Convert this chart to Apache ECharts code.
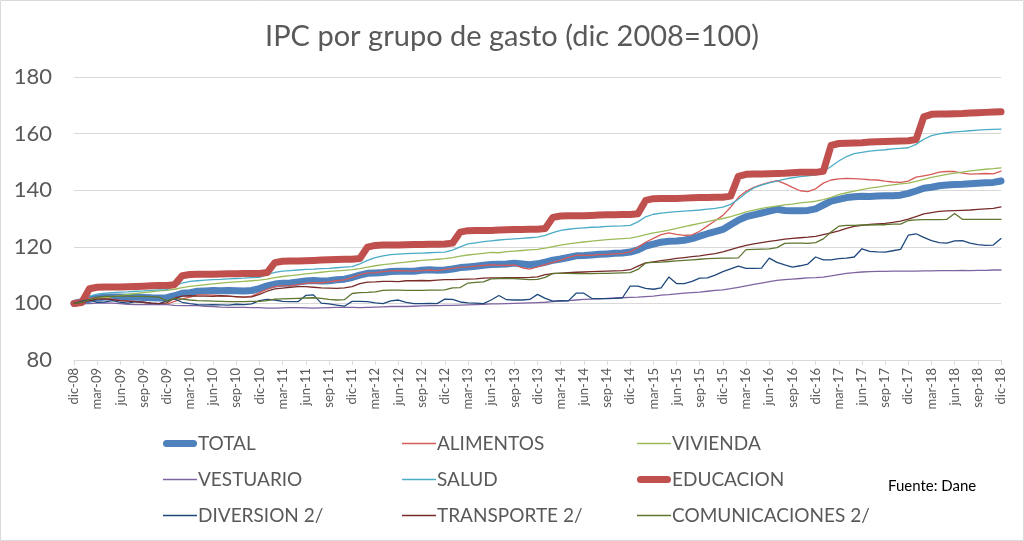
<!DOCTYPE html>
<html>
<head>
<meta charset="utf-8">
<script src="https://cdn.jsdelivr.net/npm/echarts@6/dist/echarts.min.js"></script>
<style>
  html, body { margin: 0; padding: 0; background: #fff; }
  #chart { width: 1024px; height: 541px; }
</style>
</head>
<body>
<div id="chart"></div>
<script>
// categorias mensuales dic-08 ... dic-18
const meses = ['ene', 'feb', 'mar', 'abr', 'may', 'jun', 'jul', 'ago', 'sep', 'oct', 'nov', 'dic']
const categories = ['dic-08']
for (let y = 9; y <= 18; y++) {
  meses.forEach(m => categories.push(m + '-' + String(y).padStart(2, '0')))
}

const yTicks = [80, 100, 120, 140, 160, 180]

const total = [100,
  100.59, 101.43, 101.94, 102.26, 102.28, 102.22, 102.18, 102.23, 102.12, 101.98, 101.92, 102.00,
  102.70, 103.55, 103.81, 104.29, 104.40, 104.52, 104.47, 104.59, 104.45, 104.36, 104.56, 105.24,
  106.19, 106.83, 107.12, 107.25, 107.55, 107.90, 108.05, 107.90, 108.01, 108.35, 108.55, 109.16,
  109.96, 110.63, 110.76, 110.92, 111.25, 111.35, 111.32, 111.37, 111.69, 111.87, 111.72, 111.82,
  112.15, 112.65, 112.88, 113.16, 113.48, 113.75, 113.80, 113.89, 114.23, 113.93, 113.68, 113.98,
  114.54, 115.26, 115.71, 116.24, 116.81, 116.91, 117.09, 117.33, 117.49, 117.68, 117.84, 118.15,
  118.91, 120.28, 120.98, 121.63, 121.95, 122.08, 122.31, 122.90, 123.78, 124.62, 125.37, 126.15,
  127.78, 129.41, 130.63, 131.28, 131.95, 132.58, 133.27, 132.85, 132.78, 132.70, 132.85, 133.40,
  134.77, 136.12, 136.76, 137.40, 137.71, 137.87, 137.80, 137.99, 138.05, 138.07, 138.25, 138.85,
  139.72, 140.71, 141.05, 141.55, 141.80, 142.02, 142.10, 142.25, 142.43, 142.60, 142.76, 143.27]

const alimentos = [100,
  101.0, 101.8, 101.9, 101.8, 101.4, 101.1, 100.8, 100.6, 100.3, 100.0, 99.7, 99.7,
  100.7, 101.6, 102.2, 103.0, 103.0, 102.9, 102.7, 102.6, 102.3, 102.2, 102.6, 103.8,
  105.0, 105.9, 106.2, 106.3, 106.6, 107.1, 107.3, 107.3, 107.6, 108.0, 108.3, 109.2,
  110.2, 110.8, 110.9, 111.2, 111.5, 111.6, 111.5, 111.4, 111.6, 111.8, 111.6, 112.0,
  112.4, 112.8, 112.9, 113.2, 113.4, 113.6, 113.5, 113.4, 113.6, 112.6, 112.1, 112.9,
  113.7, 114.5, 115.3, 116.3, 117.0, 117.0, 117.0, 117.2, 117.3, 117.5, 117.7, 118.2,
  119.8, 121.6, 123.0, 124.3, 124.9, 124.4, 124.0, 124.2, 125.5, 127.4, 129.2, 131.1,
  134.0, 137.5, 139.6, 141.0, 142.0, 142.8, 143.4, 142.3, 141.0, 139.8, 139.5, 140.5,
  142.5, 143.6, 144.0, 144.2, 144.1, 143.9, 143.7, 143.6, 143.2, 142.9, 142.8, 143.2,
  144.6, 145.1, 145.6, 146.4, 146.6, 146.6, 146.0, 145.7, 145.8, 145.9, 145.8, 146.7]

const vivienda = [100,
  100.5, 101.1, 101.6, 102.0, 102.4, 102.8, 103.2, 103.5, 103.8, 104.1, 104.4, 104.6,
  105.0, 105.6, 106.0, 106.3, 106.6, 106.9, 107.2, 107.4, 107.6, 107.8, 108.0, 108.2,
  108.6, 109.1, 109.5, 109.8, 110.1, 110.4, 110.7, 111.0, 111.3, 111.5, 111.7, 111.9,
  112.3, 112.8, 113.3, 113.7, 114.0, 114.3, 114.6, 114.9, 115.2, 115.4, 115.6, 115.8,
  116.2, 116.7, 117.1, 117.4, 117.7, 118.0, 117.9, 118.3, 118.5, 118.7, 118.9, 119.1,
  119.5, 120.1, 120.6, 121.0, 121.4, 121.7, 122.0, 122.3, 122.5, 122.7, 122.9, 123.1,
  123.6, 124.3, 124.9, 125.4, 125.9, 126.5, 127.1, 127.7, 128.3, 128.9, 129.5, 130.0,
  130.7, 131.5, 132.3, 133.0, 133.6, 134.0, 134.4, 134.8, 135.1, 135.5, 135.8, 136.1,
  136.7, 137.5, 138.4, 139.1, 139.7, 140.2, 140.7, 141.1, 141.5, 141.9, 142.2, 142.5,
  143.1, 143.8, 144.5, 145.1, 145.6, 146.0, 146.4, 146.8, 147.1, 147.4, 147.6, 147.9]

const vestuario = [100,
  99.9, 99.9, 100.1, 100.2, 100.1, 99.9, 99.7, 99.6, 99.6, 99.6, 99.6, 99.6,
  99.3, 99.2, 99.2, 99.2, 99.0, 98.9, 98.7, 98.6, 98.6, 98.6, 98.5, 98.5,
  98.3, 98.3, 98.4, 98.5, 98.5, 98.4, 98.3, 98.4, 98.5, 98.6, 98.6, 98.6,
  98.5, 98.6, 98.7, 98.8, 98.9, 98.9, 98.9, 99.0, 99.1, 99.2, 99.2, 99.3,
  99.3, 99.4, 99.5, 99.6, 99.7, 99.8, 99.8, 99.9, 100.0, 100.1, 100.2, 100.3,
  100.4, 100.6, 100.8, 101.0, 101.2, 101.4, 101.5, 101.6, 101.8, 101.9, 102.0, 102.1,
  102.2, 102.4, 102.6, 102.9, 103.1, 103.4, 103.6, 103.8, 104.0, 104.3, 104.6, 104.8,
  105.2, 105.7, 106.2, 106.7, 107.2, 107.7, 108.1, 108.4, 108.6, 108.8, 109.0, 109.1,
  109.3, 109.7, 110.2, 110.6, 110.9, 111.1, 111.2, 111.3, 111.3, 111.4, 111.4, 111.4,
  111.4, 111.5, 111.5, 111.6, 111.6, 111.6, 111.7, 111.6, 111.7, 111.7, 111.8, 111.8]

const salud = [100,
  101.3, 102.6, 103.3, 103.6, 103.8, 104.0, 104.1, 104.3, 104.4, 104.6, 104.8, 104.9,
  106.0, 107.2, 107.8, 108.0, 108.2, 108.4, 108.5, 108.7, 108.8, 108.9, 109.1, 109.2,
  110.2, 111.0, 111.4, 111.6, 111.8, 112.0, 112.1, 112.3, 112.4, 112.6, 112.8, 113.0,
  114.0, 115.2, 116.2, 116.8, 117.2, 117.4, 117.6, 117.7, 117.8, 117.9, 118.0, 118.1,
  118.8, 120.0, 121.0, 121.4, 121.8, 122.1, 122.4, 122.6, 122.8, 123.0, 123.2, 123.4,
  124.0, 125.0, 125.8, 126.2, 126.5, 126.7, 126.9, 127.0, 127.2, 127.3, 127.4, 127.6,
  128.8, 130.6, 131.5, 131.9, 132.2, 132.4, 132.6, 132.8, 133.0, 133.3, 133.6, 134.0,
  135.0, 136.8, 139.0, 140.8, 141.8, 142.6, 143.2, 143.9, 144.4, 144.8, 145.1, 145.4,
  146.6, 148.4, 150.3, 151.9, 152.9, 153.4, 153.8, 154.1, 154.3, 154.6, 154.8, 155.0,
  156.2, 158.0, 159.3, 159.9, 160.3, 160.6, 160.8, 161.0, 161.2, 161.4, 161.5, 161.6]

const educacion = [100,
  100.3, 105.2, 105.7, 105.8, 105.8, 105.8, 105.9, 106.0, 106.1, 106.2, 106.3, 106.3,
  106.6, 109.8, 110.2, 110.3, 110.3, 110.3, 110.4, 110.5, 110.5, 110.6, 110.6, 110.6,
  110.9, 114.4, 114.9, 115.0, 115.0, 115.1, 115.2, 115.3, 115.4, 115.5, 115.6, 115.6,
  115.9, 119.9, 120.5, 120.6, 120.6, 120.6, 120.7, 120.8, 120.8, 120.9, 120.9, 121.0,
  121.3, 125.2, 125.7, 125.8, 125.8, 125.8, 125.9, 126.0, 126.1, 126.1, 126.2, 126.2,
  126.5, 130.4, 130.9, 131.0, 131.0, 131.0, 131.1, 131.2, 131.3, 131.3, 131.4, 131.4,
  131.7, 136.4, 137.0, 137.1, 137.1, 137.1, 137.2, 137.3, 137.4, 137.4, 137.5, 137.5,
  137.9, 144.9, 145.6, 145.7, 145.7, 145.8, 145.9, 146.0, 146.2, 146.3, 146.3, 146.3,
  146.7, 155.8, 156.5, 156.6, 156.7, 156.8, 157.0, 157.1, 157.2, 157.3, 157.4, 157.5,
  157.9, 165.9, 166.8, 166.9, 166.9, 167.0, 167.1, 167.3, 167.4, 167.5, 167.6, 167.7]

const diversion = [100,
  100.8, 101.3, 100.4, 100.5, 101.0, 100.4, 100.1, 100.6, 100.4, 100.1, 99.9, 100.9,
  101.6, 100.4, 99.9, 99.6, 99.5, 99.6, 99.5, 99.4, 99.7, 99.6, 99.8, 101.0,
  101.4, 101.2, 100.7, 100.6, 100.6, 102.8, 103.0, 100.1, 99.8, 99.4, 99.0, 100.7,
  100.7, 100.6, 100.2, 99.9, 100.9, 101.2, 100.4, 99.9, 99.9, 100.0, 99.9, 101.5,
  101.4, 100.5, 100.2, 100.1, 99.9, 101.2, 102.8, 101.3, 101.2, 101.2, 101.4, 103.2,
  101.8, 100.8, 101.0, 100.9, 103.6, 103.6, 101.8, 101.7, 101.7, 101.8, 102.0, 106.1,
  106.1, 105.3, 105.0, 105.5, 109.3, 107.0, 107.0, 107.8, 108.9, 109.0, 110.0, 111.2,
  112.2, 113.2, 112.4, 112.4, 112.5, 116.0, 114.5, 113.6, 112.8, 113.3, 113.9, 116.4,
  115.4, 115.4, 115.8, 116.0, 116.4, 119.3, 118.4, 118.2, 118.1, 118.6, 119.1, 124.1,
  124.6, 123.3, 122.2, 121.5, 121.3, 122.1, 122.2, 121.3, 120.8, 120.5, 120.6, 122.9]

const transporte = [100,
  100.4, 101.0, 101.5, 101.6, 101.3, 101.0, 100.8, 100.6, 100.4, 100.1, 99.9, 100.2,
  101.9, 102.6, 102.7, 102.6, 102.6, 102.5, 102.7, 102.6, 102.4, 102.2, 102.3, 103.2,
  104.3, 105.1, 105.4, 105.7, 105.9, 105.9, 105.7, 105.5, 105.4, 105.3, 105.5, 105.9,
  107.0, 107.5, 107.6, 107.8, 107.8, 107.7, 108.0, 108.0, 108.1, 108.0, 108.2, 108.4,
  108.4, 108.5, 108.6, 108.7, 108.9, 109.0, 109.0, 109.1, 109.1, 109.1, 109.2, 109.4,
  110.2, 110.5, 110.7, 110.9, 111.0, 111.1, 111.2, 111.3, 111.4, 111.5, 111.6, 111.9,
  113.2, 114.3, 114.7, 115.1, 115.5, 115.9, 116.2, 116.5, 116.8, 117.2, 117.6, 118.2,
  119.0, 119.8, 120.5, 121.0, 121.5, 121.9, 122.3, 122.7, 123.0, 123.2, 123.4, 123.7,
  124.3, 124.9, 125.6, 126.5, 127.2, 127.6, 127.9, 128.1, 128.3, 128.6, 129.1, 129.8,
  130.7, 131.6, 132.1, 132.5, 132.7, 132.8, 132.9, 133.0, 133.2, 133.4, 133.6, 134.1]

const comunicaciones = [100,
  100.4, 101.3, 102.2, 102.5, 102.5, 102.6, 102.6, 102.5, 102.5, 102.4, 102.2, 100.8,
  101.8, 101.5, 101.2, 101.0, 100.9, 100.8, 100.7, 100.6, 100.6, 100.6, 100.7, 100.7,
  101.0, 101.5, 101.6, 101.7, 101.8, 101.9, 102.0, 101.8, 101.4, 101.2, 101.3, 103.5,
  103.8, 103.9, 104.1, 104.6, 104.7, 104.7, 104.6, 104.6, 104.6, 104.7, 104.7, 104.8,
  105.5, 105.6, 107.2, 107.4, 107.6, 108.7, 108.8, 108.8, 108.8, 108.6, 108.4, 108.5,
  109.2, 110.6, 110.6, 110.6, 110.5, 110.5, 110.5, 110.6, 110.6, 110.7, 110.8, 110.9,
  112.0, 114.3, 114.5, 114.6, 114.8, 115.0, 115.2, 115.4, 115.6, 115.8, 115.9, 116.0,
  116.0, 116.1, 119.0, 119.1, 119.2, 119.3, 119.7, 121.2, 121.3, 121.3, 121.2, 121.5,
  122.8, 125.2, 127.3, 127.6, 127.6, 127.7, 127.7, 127.8, 127.8, 128.0, 128.0, 129.3,
  129.5, 129.6, 129.6, 129.6, 129.7, 131.8, 129.7, 129.7, 129.7, 129.7, 129.7, 129.7]

const seriesDefs = [
  { name: 'TOTAL', data: total, color: '#4f81bd', width: 7 },
  { name: 'ALIMENTOS', data: alimentos, color: '#d55b58', width: 1.3 },
  { name: 'VIVIENDA', data: vivienda, color: '#9bbb59', width: 1.3 },
  { name: 'VESTUARIO', data: vestuario, color: '#8064a2', width: 1.3 },
  { name: 'SALUD', data: salud, color: '#4bacc6', width: 1.3 },
  { name: 'EDUCACION', data: educacion, color: '#c0504d', width: 7 },
  { name: 'DIVERSION 2/', data: diversion, color: '#1f497d', width: 1.3 },
  { name: 'TRANSPORTE 2/', data: transporte, color: '#772c2a', width: 1.3 },
  { name: 'COMUNICACIONES 2/', data: comunicaciones, color: '#5f7530', width: 1.3 }
]

const font = 'Lato, "Open Sans", sans-serif'
// iconos de leyenda: barra gruesa redondeada o linea fina
const thickIcon = 'path://M3.5,0H30.5A3.5,3.5,0,0,1,30.5,7H3.5A3.5,3.5,0,0,1,3.5,0Z'
const thinIcon = 'path://M0,0H34V1.6H0Z'

function legendCol(left, names) {
  return {
    left: left,
    top: 429,
    orient: 'vertical',
    itemGap: 17,
    itemWidth: 34,
    itemHeight: 22,
    selectedMode: false,
    textStyle: { color: '#595959', fontSize: 19, fontFamily: font, padding: [0, 0, 0, -4] },
    data: names.map(n => {
      const def = seriesDefs.find(s => s.name === n)
      return { name: n, icon: def.width > 3 ? thickIcon : thinIcon }
    })
  }
}

const chart = echarts.init(document.getElementById('chart'))
chart.setOption({
  animation: false,
  backgroundColor: '#fff',
  title: {
    text: 'IPC por grupo de gasto (dic 2008=100)',
    left: 'center',
    top: 17,
    textStyle: { color: '#595959', fontSize: 29, fontWeight: 'normal', fontFamily: font }
  },
  graphic: [
    {
      type: 'rect',
      shape: { x: 0.5, y: 0.5, width: 1023, height: 540 },
      style: { fill: 'none', stroke: '#d9d9d9', lineWidth: 1 }
    },
    {
      type: 'text',
      left: 888,
      top: 479,
      style: { text: 'Fuente: Dane', fill: '#000', fontSize: 15, fontFamily: font }
    }
  ],
  legend: [
    legendCol(158, ['TOTAL', 'VESTUARIO', 'DIVERSION 2/']),
    legendCol(397, ['ALIMENTOS', 'SALUD', 'TRANSPORTE 2/']),
    legendCol(632, ['VIVIENDA', 'EDUCACION', 'COMUNICACIONES 2/'])
  ],
  grid: { left: 74, right: 23, top: 77, bottom: 181, containLabel: false },
  xAxis: {
    type: 'category',
    data: categories,
    boundaryGap: false,
    axisLine: { lineStyle: { color: '#d9d9d9' } },
    axisTick: { interval: 2, length: 5, lineStyle: { color: '#d9d9d9' } },
    axisLabel: { interval: 2, rotate: 90, color: '#595959', fontSize: 13, fontFamily: font, margin: 8 },
    splitLine: { show: false }
  },
  yAxis: {
    type: 'value',
    min: yTicks[0],
    max: yTicks[yTicks.length - 1],
    interval: 20,
    axisLine: { show: false },
    axisTick: { show: false },
    axisLabel: { color: '#595959', fontSize: 22, fontFamily: font, margin: 22 },
    splitLine: { lineStyle: { color: '#d9d9d9', width: 1 } }
  },
  series: seriesDefs.map(s => ({
    name: s.name,
    type: 'line',
    data: s.data,
    symbol: 'none',
    smooth: false,
    color: s.color,
    lineStyle: { color: s.color, width: s.width, cap: 'round', join: 'round' },
    emphasis: { disabled: true }
  }))
})
</script>
</body>
</html>
